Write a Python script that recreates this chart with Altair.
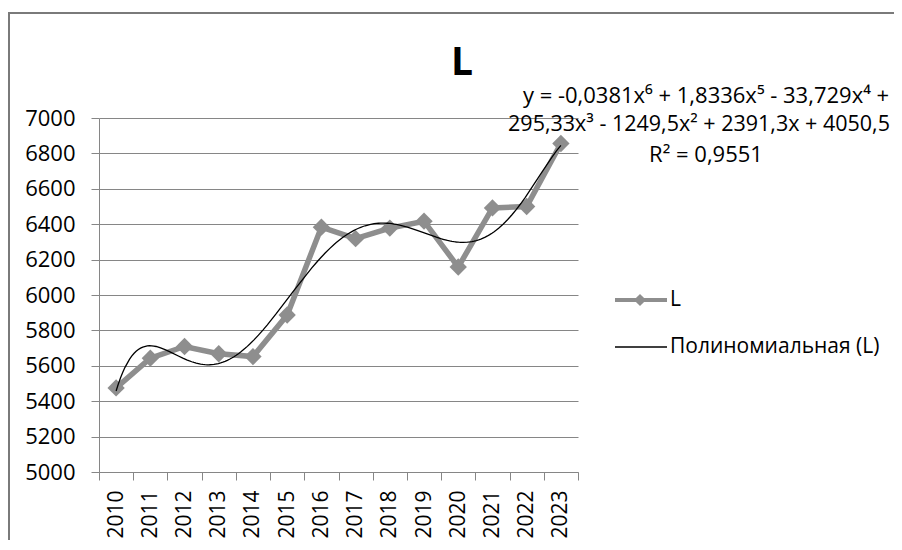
import altair as alt
import pandas as pd

# ---- data ----
years = list(range(2010, 2024))
values = [5475, 5643, 5709, 5668, 5652, 5887, 6383, 6318, 6378, 6417, 6158, 6492, 6500, 6856]
y_ticks = list(range(5000, 7001, 200))
x_bounds = [2009.5 + i for i in range(15)]
title_text = "L"
series_name = "L"
trend_name = "Полиномиальная (L)"
eq_line1 = "y = -0,0381x⁶ + 1,8336x⁵ - 33,729x⁴ +"
eq_line2 = "295,33x³ - 1249,5x² + 2391,3x + 4050,5"
eq_line3 = "R² = 0,9551"

df = pd.DataFrame({"year": years, "value": values})
one = pd.DataFrame({"k": [0]})

FONT = "Open Sans"
GRID = "#868686"
SERIES = "#8e8e8e"
FRAME = "#7a7a7a"

x_scale = alt.Scale(domain=[2009.5, 2023.5], nice=False, zero=False)
y_scale = alt.Scale(domain=[5000, 7000], nice=False, zero=False)

x_axis = alt.Axis(
    values=x_bounds, grid=False, tickSize=8, tickColor=GRID, tickWidth=1,
    domainColor=GRID, domainWidth=1, labelAngle=-90, labelOffset=17.1,
    labelExpr="datum.value > 2023 ? '' : format(datum.value + 0.5, 'd')",
    labelFont=FONT, labelFontSize=21, labelColor="#000000", labelPadding=10,
    labelFlush=False, labelOverlap=False, title=None,
)
y_axis = alt.Axis(
    values=y_ticks, grid=True, gridColor=GRID, gridWidth=1, tickSize=8,
    tickColor=GRID, tickWidth=1, domainColor=GRID, domainWidth=1,
    labelFont=FONT, labelFontSize=22, labelColor="#000000", labelPadding=16,
    labelFlush=False, format="d", title=None,
)

X = alt.X("year:Q", scale=x_scale, axis=x_axis)
Y = alt.Y("value:Q", scale=y_scale, axis=y_axis)

line = alt.Chart(df).mark_line(color=SERIES, strokeWidth=5.5).encode(x=X, y=Y)
points = alt.Chart(df).mark_point(
    shape="diamond", filled=True, size=300, color=SERIES, opacity=1
).encode(x=X, y=Y)
trend = alt.Chart(df).transform_regression(
    "year", "value", method="poly", order=6
).mark_line(color="black", strokeWidth=1.3).encode(x=X, y=Y)

# ---- frame (left and top edges of the chart area) ----
frame_left = alt.Chart(one).mark_rect(color=FRAME).encode(
    x=alt.value(-91), x2=alt.value(-89), y=alt.value(-106), y2=alt.value(430)
)
frame_top = alt.Chart(one).mark_rect(color=FRAME).encode(
    x=alt.value(-91), x2=alt.value(795), y=alt.value(-106), y2=alt.value(-104)
)

# ---- title ----
title = alt.Chart(one).mark_text(
    text=title_text, font=FONT, fontSize=39, fontWeight="bold",
    align="center", baseline="alphabetic", color="#000000"
).encode(x=alt.value(363), y=alt.value(-43))

# ---- equation ----
def eq(txt, xv, yv, fs):
    return alt.Chart(one).mark_text(
        text=txt, font=FONT, fontSize=fs, align="center", baseline="middle",
        color="#000000"
    ).encode(x=alt.value(xv), y=alt.value(yv))

eq1 = eq(eq_line1, 607, -22, 22)
eq2 = eq(eq_line2, 600, 7, 21.5)
eq3 = eq(eq_line3, 607, 37, 22)

# ---- legend ----
leg_line1 = alt.Chart(one).mark_rule(color=SERIES, strokeWidth=4).encode(
    x=alt.value(516), x2=alt.value(568), y=alt.value(182)
)
leg_pt = alt.Chart(one).mark_point(
    shape="diamond", filled=True, size=150, color=SERIES, opacity=1
).encode(x=alt.value(541), y=alt.value(182))
leg_txt1 = alt.Chart(one).mark_text(
    text=series_name, font=FONT, fontSize=21, align="left", baseline="middle",
    color="#000000"
).encode(x=alt.value(571), y=alt.value(182))
leg_line2 = alt.Chart(one).mark_rule(color="black", strokeWidth=1.3).encode(
    x=alt.value(516), x2=alt.value(568), y=alt.value(229)
)
leg_txt2 = alt.Chart(one).mark_text(
    text=trend_name, font=FONT, fontSize=21, align="left", baseline="middle",
    color="#000000"
).encode(x=alt.value(571), y=alt.value(229))

chart = alt.layer(
    line, points, trend, frame_left, frame_top, title, eq1, eq2, eq3,
    leg_line1, leg_pt, leg_txt1, leg_line2, leg_txt2,
).properties(
    width=479, height=354,
    autosize=alt.AutoSizeParams(type="none"),
    padding={"left": 91, "top": 110, "right": 316, "bottom": 68},
).configure_view(stroke=None)

chart.save("out.html", embed_options={"renderer": "svg", "actions": False})
